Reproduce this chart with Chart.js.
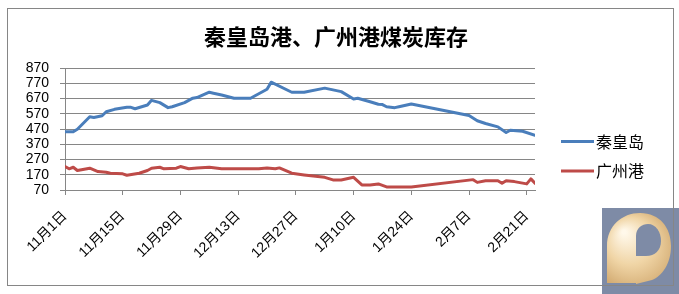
<!DOCTYPE html>
<html>
<head>
<meta charset="utf-8">
<script src="https://cdn.jsdelivr.net/npm/chart.js@4/dist/chart.umd.min.js"></script>
<style>
  html, body { margin: 0; padding: 0; background: #ffffff; }
  #wrap { width: 679px; height: 294px; }
</style>
</head>
<body>
<div id="wrap"><canvas id="c" width="679" height="294"></canvas></div>
<script>
// ---- data (x = days since 11月1日) ----
const chartTitle = '秦皇岛港、广州港煤炭库存';
const seriesNames = ['秦皇岛', '广州港'];
const tickDays = [0, 14, 28, 42, 56, 70, 84, 98, 112];
const tickLabels = ['11月1日', '11月15日', '11月29日', '12月13日', '12月27日', '1月10日', '1月24日', '2月7日', '2月21日'];
const yTicks = [70, 170, 270, 370, 470, 570, 670, 770, 870];

const qhdDays = [0, 2, 3, 6, 7, 9, 10, 12, 15, 16, 17, 20, 21, 23, 25, 26, 29, 31, 32, 35, 36, 38, 41, 45, 49, 50, 55, 58, 63, 67, 70, 71, 74, 76, 77, 78, 80, 81, 84, 98, 100, 102, 105, 107, 108, 111, 114];
const qhdValues = [452, 452, 468, 550, 546, 557, 583, 599, 612, 612, 603, 627, 658, 643, 610, 616, 643, 672, 676, 711, 705, 693, 672, 672, 731, 777, 711, 711, 738, 715, 667, 672, 649, 632, 630, 616, 610, 616, 634, 558, 524, 506, 484, 447, 462, 455, 429];

const gzDays = [0, 1, 2, 3, 6, 8, 10, 11, 14, 15, 18, 20, 21, 23, 24, 27, 28, 30, 32, 35, 38, 47, 49, 51, 52, 55, 58, 63, 65, 67, 70, 72, 74, 76, 78, 84, 99, 100, 102, 105, 106, 107, 109, 112, 113, 114];
const gzValues = [224, 209, 219, 198, 213, 191, 186, 180, 176, 167, 180, 198, 213, 219, 209, 213, 224, 209, 215, 219, 209, 209, 215, 209, 215, 180, 169, 153, 136, 136, 153, 103, 103, 110, 90, 90, 138, 120, 131, 131, 114, 131, 125, 110, 143, 114];

const colors = ['#4a7ebb', '#be4b48'];

function pts(xs, ys) { return xs.map((x, i) => ({ x: x, y: ys[i] })); }

const frame = {
  id: 'frame',
  beforeDraw(chart) {
    const ctx = chart.ctx;
    ctx.save();
    ctx.fillStyle = '#ffffff';
    ctx.fillRect(0, 0, chart.width, chart.height);
    // logo
    ctx.fillStyle = '#7e8ba6';
    ctx.fillRect(602, 208, 77, 86);
    const g = ctx.createRadialGradient(624, 232, 2, 636, 250, 45);
    g.addColorStop(0, '#fff8ea');
    g.addColorStop(0.5, '#f0d5a6');
    g.addColorStop(1, '#cfa66c');
    ctx.fillStyle = g;
    ctx.beginPath();
    ctx.moveTo(607, 283);
    ctx.lineTo(607, 246);
    ctx.bezierCurveTo(607, 226, 622, 213, 640, 213);
    ctx.bezierCurveTo(660, 213, 671, 228, 671, 246);
    ctx.bezierCurveTo(671, 264, 662, 276, 652, 280);
    ctx.lineTo(636, 284);
    ctx.lineTo(636, 283);
    ctx.closePath();
    ctx.fill();
    ctx.fillStyle = '#7e8ba6';
    ctx.beginPath();
    ctx.moveTo(636, 256);
    ctx.lineTo(636, 236);
    ctx.bezierCurveTo(636, 228, 642, 224, 648, 224);
    ctx.bezierCurveTo(656, 224, 661, 232, 661, 241);
    ctx.bezierCurveTo(661, 250, 655, 256, 646, 256);
    ctx.closePath();
    ctx.fill();
    ctx.restore();
  },
  afterDraw(chart) {
    const ctx = chart.ctx;
    ctx.save();
    // outer border
    ctx.strokeStyle = '#868686';
    ctx.lineWidth = 1;
    ctx.strokeRect(7.5, 8.5, 666, 277);
    // title
    ctx.fillStyle = '#000000';
    ctx.font = "bold 22px 'Noto Sans CJK SC', sans-serif";
    ctx.textAlign = 'center';
    ctx.textBaseline = 'middle';
    ctx.fillText(chartTitle, 336, 37);
    // legend
    ctx.font = "16px 'Noto Sans CJK SC', sans-serif";
    ctx.textAlign = 'left';
    const ys = [141.5, 171];
    chart.data.datasets.forEach((ds, i) => {
      ctx.strokeStyle = ds.borderColor;
      ctx.lineWidth = 3;
      ctx.beginPath();
      ctx.moveTo(561, ys[i]);
      ctx.lineTo(594, ys[i]);
      ctx.stroke();
      ctx.fillStyle = '#000000';
      ctx.fillText(ds.label, 596, ys[i]);
    });
    ctx.restore();
  }
};

new Chart(document.getElementById('c'), {
  type: 'line',
  data: {
    datasets: [
      { label: seriesNames[0], data: pts(qhdDays, qhdValues), borderColor: colors[0], backgroundColor: colors[0], borderWidth: 3, pointRadius: 0, tension: 0, borderJoinStyle: 'round', borderCapStyle: 'round' },
      { label: seriesNames[1], data: pts(gzDays, gzValues), borderColor: colors[1], backgroundColor: colors[1], borderWidth: 3, pointRadius: 0, tension: 0, borderJoinStyle: 'round', borderCapStyle: 'round' }
    ]
  },
  options: {
    responsive: false,
    animation: false,
    events: [],
    layout: { padding: { top: 68, left: 0, right: 144, bottom: 0 } },
    plugins: { legend: { display: false }, title: { display: false }, tooltip: { enabled: false } },
    scales: {
      x: {
        type: 'linear',
        min: 0,
        max: 114,
        afterBuildTicks(s) { s.ticks = tickDays.map(v => ({ value: v })); },
        afterFit(s) { s.height = 104; },
        grid: { drawOnChartArea: false, drawTicks: true, tickLength: 5, color: '#868686' },
        border: { display: true, color: '#868686' },
        ticks: {
          autoSkip: false,
          maxRotation: 45,
          minRotation: 45,
          padding: 13,
          color: '#000000',
          font: { size: 14, family: "'Liberation Sans', 'Noto Sans CJK SC', sans-serif" },
          callback(v) { const i = tickDays.indexOf(v); return i >= 0 ? tickLabels[i] : ''; }
        }
      },
      y: {
        min: 70,
        max: 870,
        afterBuildTicks(s) { s.ticks = yTicks.map(v => ({ value: v })); },
        afterFit(s) { s.width = 65; },
        grid: { color: '#868686', drawTicks: true, tickLength: 5 },
        border: { display: true, color: '#868686' },
        ticks: {
          autoSkip: false,
          padding: 11,
          color: '#000000',
          font: { size: 14, family: "'Liberation Sans', sans-serif" }
        }
      }
    }
  },
  plugins: [frame]
});
</script>
</body>
</html>
